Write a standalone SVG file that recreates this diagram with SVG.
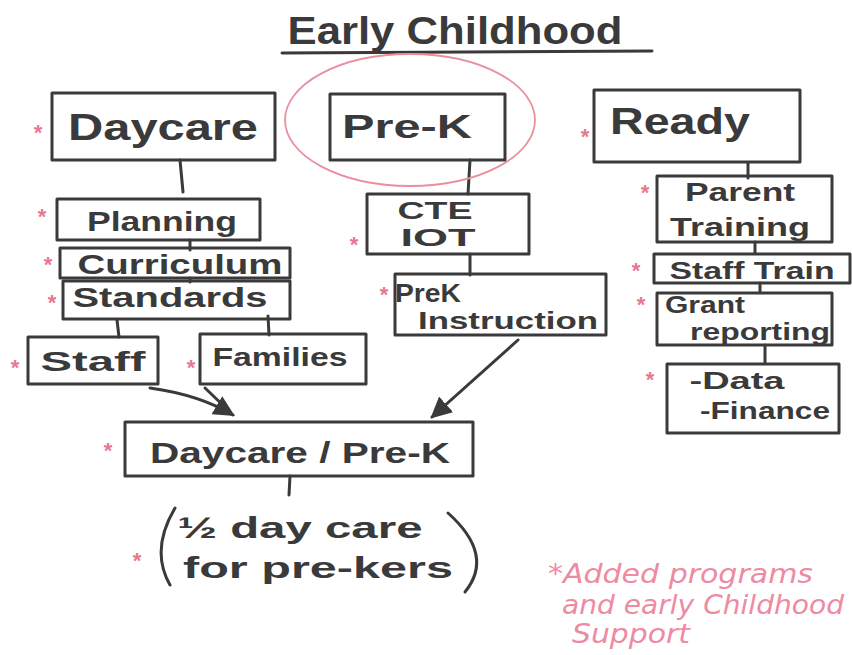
<svg xmlns="http://www.w3.org/2000/svg" width="852" height="655" viewBox="0 0 852 655">
<style>
.box{fill:none;stroke:#3a3a3a;stroke-width:3;stroke-linecap:round;stroke-linejoin:round}
.ln{fill:none;stroke:#3a3a3a;stroke-width:3;stroke-linecap:round}
.t{font-family:"Liberation Sans","DejaVu Sans",sans-serif;font-weight:bold;fill:#3a3a3a;text-anchor:middle}
.star{font-family:"Liberation Sans",sans-serif;font-size:22px;font-weight:bold;fill:#e8788f;text-anchor:middle}
.note{font-family:"DejaVu Sans",sans-serif;font-style:italic;font-size:26px;fill:#ee8aa2}
</style>
<defs>
<marker id="ah" viewBox="0 0 10 10" refX="9" refY="5" markerWidth="7" markerHeight="7" orient="auto-start-reverse">
<path d="M0,0 L10,5 L0,10 z" fill="#3a3a3a"/>
</marker>
</defs>
<rect width="852" height="655" fill="#ffffff"/>

<g id="title">
<text class="t" x="455" y="44" font-size="38" textLength="335" lengthAdjust="spacingAndGlyphs">Early Childhood</text>
<line class="ln" x1="282" y1="53" x2="652" y2="51"/>
</g>

<g id="connectors">
<line class="ln" x1="180" y1="160" x2="183" y2="192"/>
<line class="ln" x1="470" y1="160" x2="468" y2="194"/>
<line class="ln" x1="748" y1="163" x2="748" y2="178"/>
<line class="ln" x1="190" y1="240" x2="190" y2="250"/>
<line class="ln" x1="190" y1="278" x2="190" y2="282"/>
<line class="ln" x1="117" y1="320" x2="119" y2="337"/>
<line class="ln" x1="268" y1="316" x2="269" y2="335"/>
<line class="ln" x1="470" y1="254" x2="470" y2="275"/>
<line class="ln" x1="755" y1="242" x2="755" y2="253"/>
<line class="ln" x1="760" y1="283" x2="760" y2="292"/>
<line class="ln" x1="765" y1="345" x2="765" y2="363"/>
<path class="ln" d="M150,388 Q200,395 233,415" marker-end="url(#ah)"/>
<path class="ln" d="M205,388 L228,410"/>
<path class="ln" d="M518,340 L432,417" marker-end="url(#ah)"/>
<line class="ln" x1="290" y1="476" x2="289" y2="495"/>
</g>

<ellipse id="prek-circle" cx="410" cy="120" rx="125" ry="66" fill="none" stroke="#e8909f" stroke-width="1.8"/>

<g id="daycare">
<rect class="box" x="52" y="93" width="223" height="67"/>
<text class="t" x="163" y="140" font-size="36" textLength="190" lengthAdjust="spacingAndGlyphs">Daycare</text>
<text class="star" x="38" y="140">*</text>
</g>

<g id="prek">
<rect class="box" x="330" y="94" width="175" height="66"/>
<text class="t" x="407" y="138" font-size="34" textLength="130" lengthAdjust="spacingAndGlyphs">Pre-K</text>
</g>

<g id="ready">
<rect class="box" x="594" y="90" width="206" height="72"/>
<text class="t" x="680" y="134" font-size="36" textLength="140" lengthAdjust="spacingAndGlyphs">Ready</text>
<text class="star" x="585" y="144">*</text>
</g>

<g id="planning">
<rect class="box" x="57" y="199" width="203" height="41"/>
<text class="t" x="162" y="231" font-size="28" textLength="150" lengthAdjust="spacingAndGlyphs">Planning</text>
<text class="star" x="42" y="224">*</text>
</g>

<g id="curriculum">
<rect class="box" x="60" y="248" width="230" height="30"/>
<text class="t" x="180" y="274" font-size="28" textLength="205" lengthAdjust="spacingAndGlyphs">Curriculum</text>
<text class="star" x="48" y="272">*</text>
</g>

<g id="standards">
<rect class="box" x="63" y="281" width="227" height="38"/>
<text class="t" x="170" y="307" font-size="28" textLength="195" lengthAdjust="spacingAndGlyphs">Standards</text>
<text class="star" x="52" y="310">*</text>
</g>

<g id="staff">
<rect class="box" x="28" y="337" width="130" height="47"/>
<text class="t" x="93" y="371" font-size="28" textLength="105" lengthAdjust="spacingAndGlyphs">Staff</text>
<text class="star" x="15" y="375">*</text>
</g>

<g id="families">
<rect class="box" x="200" y="334" width="166" height="50"/>
<text class="t" x="280" y="366" font-size="26" textLength="135" lengthAdjust="spacingAndGlyphs">Families</text>
<text class="star" x="191" y="375">*</text>
</g>

<g id="cte-iot">
<rect class="box" x="367" y="194" width="162" height="60"/>
<text class="t" x="435" y="219" font-size="24" textLength="75" lengthAdjust="spacingAndGlyphs">CTE</text>
<text class="t" x="438" y="246" font-size="24" textLength="75" lengthAdjust="spacingAndGlyphs">IOT</text>
<text class="star" x="354" y="252">*</text>
</g>

<g id="prek-instruction">
<rect class="box" x="395" y="274" width="211" height="61"/>
<text class="t" x="428" y="302" font-size="26" textLength="66" lengthAdjust="spacingAndGlyphs">PreK</text>
<text class="t" x="508" y="329" font-size="24" textLength="180" lengthAdjust="spacingAndGlyphs">Instruction</text>
<text class="star" x="384" y="302">*</text>
</g>

<g id="parent-training">
<rect class="box" x="657" y="176" width="175" height="66"/>
<text class="t" x="740" y="201" font-size="26" textLength="110" lengthAdjust="spacingAndGlyphs">Parent</text>
<text class="t" x="740" y="236" font-size="26" textLength="140" lengthAdjust="spacingAndGlyphs">Training</text>
<text class="star" x="645" y="200">*</text>
</g>

<g id="staff-train">
<rect class="box" x="654" y="254" width="196" height="29"/>
<text class="t" x="752" y="279" font-size="24" textLength="165" lengthAdjust="spacingAndGlyphs">Staff Train</text>
<text class="star" x="636" y="278">*</text>
</g>

<g id="grant-reporting">
<rect class="box" x="657" y="293" width="175" height="52"/>
<text class="t" x="705" y="313" font-size="24" textLength="80" lengthAdjust="spacingAndGlyphs">Grant</text>
<text class="t" x="760" y="340" font-size="24" textLength="140" lengthAdjust="spacingAndGlyphs">reporting</text>
<text class="star" x="641" y="312">*</text>
</g>

<g id="data-finance">
<rect class="box" x="667" y="364" width="172" height="69"/>
<text class="t" x="737" y="389" font-size="24" textLength="95" lengthAdjust="spacingAndGlyphs">-Data</text>
<text class="t" x="765" y="419" font-size="24" textLength="130" lengthAdjust="spacingAndGlyphs">-Finance</text>
<text class="star" x="650" y="387">*</text>
</g>

<g id="daycare-prek">
<rect class="box" x="125" y="422" width="348" height="54"/>
<text class="t" x="300" y="463" font-size="30" textLength="300" lengthAdjust="spacingAndGlyphs">Daycare / Pre-K</text>
<text class="star" x="108" y="458">*</text>
</g>

<g id="half-day">
<path class="ln" d="M175,508 Q150,550 170,585"/>
<path class="ln" d="M448,513 Q495,555 465,592"/>
<text class="t" x="300" y="538" font-size="30" textLength="245" lengthAdjust="spacingAndGlyphs">½ day care</text>
<text class="t" x="318" y="578" font-size="30" textLength="270" lengthAdjust="spacingAndGlyphs">for pre-kers</text>
<text class="star" x="137" y="568">*</text>
</g>

<g id="note">
<text class="note" x="548" y="583" textLength="265" lengthAdjust="spacingAndGlyphs">*Added programs</text>
<text class="note" x="562" y="614" textLength="282" lengthAdjust="spacingAndGlyphs">and early Childhood</text>
<text class="note" x="572" y="643" textLength="118" lengthAdjust="spacingAndGlyphs">Support</text>
</g>
</svg>
